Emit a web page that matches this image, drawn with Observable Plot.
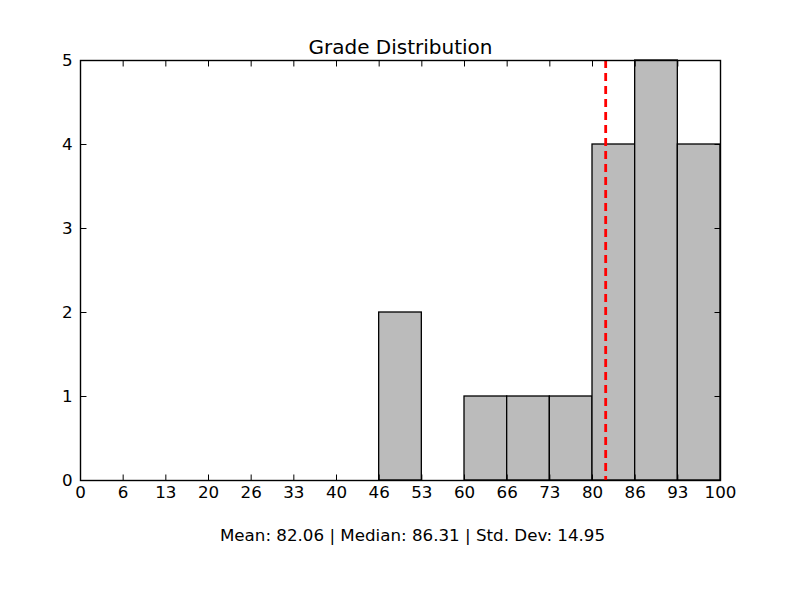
<!DOCTYPE html>
<html>
<head>
<meta charset="utf-8">
<script src="https://cdn.jsdelivr.net/npm/d3@7"></script>
<script src="https://cdn.jsdelivr.net/npm/@observablehq/plot@0.6"></script>
<style>
  html, body { margin: 0; padding: 0; background: #fff; }
  svg { font-family: "DejaVu Sans", sans-serif; }
</style>
</head>
<body>
<div id="chart"></div>
<script>
// Histogram bins (15 equal bins from 0 to 100)
const binStarts = [0, 6.667, 13.333, 20, 26.667, 33.333, 40, 46.667, 53.333, 60, 66.667, 73.333, 80, 86.667, 93.333];
const binEnds   = [6.667, 13.333, 20, 26.667, 33.333, 40, 46.667, 53.333, 60, 66.667, 73.333, 80, 86.667, 93.333, 100];
const counts    = [0, 0, 0, 0, 0, 0, 0, 2, 0, 1, 1, 1, 4, 5, 4];

const xTickValues = [0, 6.667, 13.333, 20, 26.667, 33.333, 40, 46.667, 53.333, 60, 66.667, 73.333, 80, 86.667, 93.333, 100];
const xTickLabels = ["0", "6", "13", "20", "26", "33", "40", "46", "53", "60", "66", "73", "80", "86", "93", "100"];
const yTickValues = [0, 1, 2, 3, 4, 5];

const meanValue = 82.06;
const titleText = "Grade Distribution";
const captionText = "Mean: 82.06 | Median: 86.31 | Std. Dev: 14.95";

const bins = binStarts.map((s, i) => ({x1: s, x2: binEnds[i], count: counts[i]}));
const labelOf = new Map(xTickValues.map((v, i) => [v, xTickLabels[i]]));

const tickShape = {
  draw(context, l) { context.moveTo(0, 0); context.lineTo(0, -l); }
};
const TL = 5.6;
const tickStyle = {length: TL, anchor: "start", shape: tickShape, stroke: "black", strokeWidth: 1};

const chart = Plot.plot({
  width: 800,
  height: 600,
  marginLeft: 80,
  marginRight: 80,
  marginTop: 60,
  marginBottom: 120,
  style: {fontFamily: "DejaVu Sans, sans-serif", background: "white"},
  x: {domain: [0, 100], label: null},
  y: {domain: [0, 5], label: null},
  marks: [
    Plot.rectY(bins, {x1: "x1", x2: "x2", y: "count", fill: "#bbbbbb", stroke: "black", strokeWidth: 1.3}),
    Plot.ruleX([meanValue], {stroke: "red", strokeWidth: 2.8, strokeDasharray: "8,5"}),
    Plot.frame({stroke: "black", strokeWidth: 1.4}),
    // inward ticks on all four sides
    Plot.vector(xTickValues, {x: d => d, frameAnchor: "bottom", rotate: 0, ...tickStyle}),
    Plot.vector(xTickValues, {x: d => d, frameAnchor: "top", rotate: 180, ...tickStyle}),
    Plot.vector(yTickValues, {y: d => d, frameAnchor: "left", rotate: 90, ...tickStyle}),
    Plot.vector(yTickValues, {y: d => d, frameAnchor: "right", rotate: -90, ...tickStyle}),
    Plot.axisX(xTickValues, {tickSize: 0, tickPadding: 6, fontSize: 16.7, fill: "black", tickFormat: d => labelOf.get(d), label: null}),
    Plot.axisY(yTickValues, {tickSize: 0, tickPadding: 8, fontSize: 16.7, fill: "black", tickFormat: d => String(d), label: null}),
    Plot.text([titleText], {frameAnchor: "top", dy: -7, text: d => d, fontSize: 20, fill: "black", lineAnchor: "bottom"}),
    Plot.text([captionText], {frameAnchor: "bottom", dx: 12, dy: 60, text: d => d, fontSize: 16.7, fill: "black", lineAnchor: "bottom"})
  ]
});
document.getElementById("chart").appendChild(chart);
</script>
</body>
</html>
